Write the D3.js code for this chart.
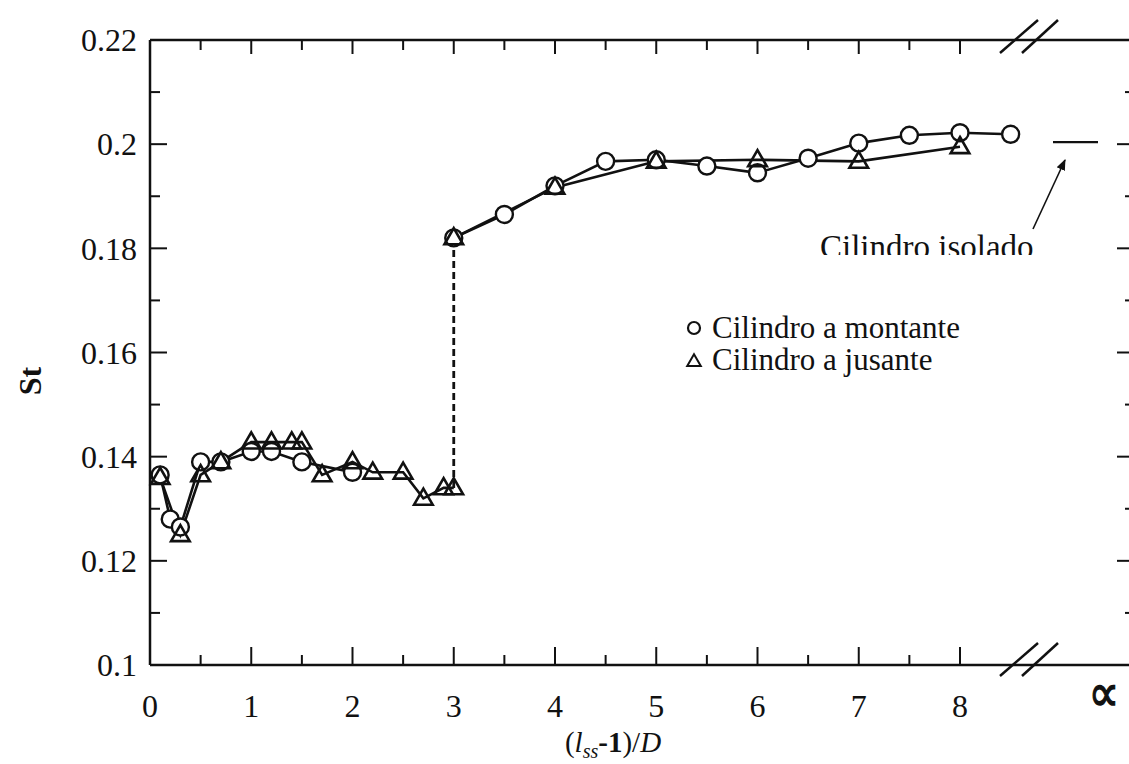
<!DOCTYPE html>
<html><head><meta charset="utf-8">
<script src="https://cdn.jsdelivr.net/npm/d3@7"></script>
<style>
html,body{margin:0;padding:0;background:#fff;}
svg{display:block;}
</style></head>
<body>
<svg id="chart" width="1129" height="764"></svg>
<script>
// ---- data ----
const montanteLowX = [0.1, 0.2, 0.3, 0.5, 0.7, 1.0, 1.2, 1.5, 2.0];
const montanteLowY = [0.1365, 0.128, 0.1265, 0.139, 0.139, 0.141, 0.141, 0.139, 0.137];
const montanteHighX = [3.0, 3.5, 4.0, 4.5, 5.0, 5.5, 6.0, 6.5, 7.0, 7.5, 8.0, 8.5];
const montanteHighY = [0.182, 0.1865, 0.192, 0.1967, 0.197, 0.1958, 0.1945, 0.1973, 0.2002, 0.2017, 0.2022, 0.2019];
const jusanteLowX = [0.1, 0.3, 0.5, 0.7, 1.0, 1.2, 1.4, 1.5, 1.7, 2.0, 2.2, 2.5, 2.7, 2.9, 3.0];
const jusanteLowY = [0.136, 0.125, 0.1365, 0.139, 0.1428, 0.1428, 0.1428, 0.1428, 0.1365, 0.139, 0.137, 0.137, 0.132, 0.134, 0.134];
const jusanteHighX = [3.0, 4.0, 5.0, 6.0, 7.0, 8.0];
const jusanteHighY = [0.182, 0.1917, 0.1967, 0.197, 0.1967, 0.1995];
const isolatedSt = 0.2004;
const xTickLabels = ["0","1","2","3","4","5","6","7","8"];
const yTickLabels = ["0.1","0.12","0.14","0.16","0.18","0.2","0.22"];
const legendLabels = ["Cilindro a montante", "Cilindro a jusante"];
const isolatedLabel = "Cilindro isolado";

// ---- layout ----
const FONT = "'Liberation Serif', Tinos, 'Times New Roman', 'DejaVu Serif', serif";
const svg = d3.select("#chart").attr("font-family", FONT);
const X0 = 150, Y0 = 665, YT = 40, XR = 1135;
const x = d3.scaleLinear().domain([0, 8]).range([X0, 960]);
const y = d3.scaleLinear().domain([0.1, 0.22]).range([Y0, YT]);
const ink = "#111";

// frame lines
svg.append("line").attr("x1", X0).attr("x2", X0).attr("y1", YT).attr("y2", Y0).attr("stroke", ink).attr("stroke-width", 2.5);
svg.append("line").attr("x1", X0).attr("x2", XR).attr("y1", Y0).attr("y2", Y0).attr("stroke", ink).attr("stroke-width", 2.5);
svg.append("line").attr("x1", X0).attr("x2", XR).attr("y1", YT).attr("y2", YT).attr("stroke", ink).attr("stroke-width", 2.5);
svg.append("line").attr("x1", XR).attr("x2", XR).attr("y1", YT).attr("y2", Y0).attr("stroke", ink).attr("stroke-width", 2.5);

// ticks
const xMinor = d3.range(0.5, 8.01, 0.5);
svg.append("g").selectAll("line").data(xMinor).join("line")
  .attr("x1", d => x(d)).attr("x2", d => x(d))
  .attr("y1", Y0).attr("y2", d => Y0 - (Number.isInteger(d) ? 18 : 10))
  .attr("stroke", ink).attr("stroke-width", 2);
svg.append("g").selectAll("line").data(xMinor).join("line")
  .attr("x1", d => x(d)).attr("x2", d => x(d))
  .attr("y1", YT).attr("y2", d => YT + (Number.isInteger(d) ? 14 : 10))
  .attr("stroke", ink).attr("stroke-width", 2);
const yTicks = d3.range(0, 13).map(i => 0.1 + i * 0.01);
svg.append("g").selectAll("line").data(yTicks.slice(1, 12)).join("line")
  .attr("x1", X0).attr("x2", (d, i) => X0 + (i % 2 === 1 ? 17 : 10))
  .attr("y1", d => y(d)).attr("y2", d => y(d))
  .attr("stroke", ink).attr("stroke-width", 2);
svg.append("g").selectAll("line").data(yTicks.slice(1, 12)).join("line")
  .attr("x1", XR).attr("x2", (d, i) => XR - (i % 2 === 1 ? 18 : 10))
  .attr("y1", d => y(d)).attr("y2", d => y(d))
  .attr("stroke", ink).attr("stroke-width", 2);

// axis break marks
function breakMarks(cy) {
  const g = svg.append("g");
  [[1000, 1038], [1022, 1058]].forEach(([a, b]) => {
    g.append("line").attr("x1", a).attr("y1", cy + 13).attr("x2", b).attr("y2", cy - 20)
      .attr("stroke", ink).attr("stroke-width", 2.5);
  });
}
breakMarks(Y0 - 2);
breakMarks(YT);

// tick labels
svg.append("g").selectAll("text").data(xTickLabels).join("text")
  .attr("x", d => x(+d)).attr("y", 717).attr("text-anchor", "middle")
  .attr("font-size", 32).attr("fill", ink).text(d => d);
svg.append("g").selectAll("text").data(yTickLabels).join("text")
  .attr("x", 137).attr("y", d => y(+d)).attr("dy", "0.35em").attr("text-anchor", "end")
  .attr("font-size", 32).attr("fill", ink).text(d => d);
svg.append("text").attr("transform", "translate(1104,711) scale(1.35,1.65)").attr("text-anchor", "middle")
  .attr("font-family", "'DejaVu Sans', sans-serif").attr("font-size", 32)
  .attr("fill", ink).attr("stroke", ink).attr("stroke-width", 0.8).text("\u221D");

// axis titles
const xt = svg.append("text").attr("x", 613).attr("y", 752).attr("text-anchor", "middle")
  .attr("font-size", 29).attr("fill", ink);
xt.append("tspan").text("(");
xt.append("tspan").attr("font-style", "italic").text("l");
xt.append("tspan").attr("font-style", "italic").attr("font-size", 20).attr("dy", 6).text("ss");
xt.append("tspan").attr("dy", -6).attr("font-weight", "bold").text("-1");
xt.append("tspan").text(")/");
xt.append("tspan").attr("font-style", "italic").text("D");
svg.append("text").attr("transform", "translate(41,381) rotate(-90)").attr("text-anchor", "middle")
  .attr("font-size", 32).attr("font-weight", "bold").attr("fill", ink).text("St");

// lines
const line = d3.line().x(d => x(d[0])).y(d => y(d[1]));
const zip = (a, b) => a.map((v, i) => [v, b[i]]);
[[montanteLowX, montanteLowY], [montanteHighX, montanteHighY], [jusanteLowX, jusanteLowY], [jusanteHighX, jusanteHighY]]
  .forEach(([xs, ys]) => {
    svg.append("path").datum(zip(xs, ys)).attr("d", line)
      .attr("fill", "none").attr("stroke", ink).attr("stroke-width", 2.6);
  });
// dashed jump
svg.append("line").attr("x1", x(3)).attr("x2", x(3))
  .attr("y1", y(jusanteLowY[jusanteLowY.length - 1])).attr("y2", y(jusanteHighY[0]))
  .attr("stroke", ink).attr("stroke-width", 2.8).attr("stroke-dasharray", "7,4");

// markers
const tri = d3.symbol().type(d3.symbolTriangle).size(150);
function circles(xs, ys) {
  svg.append("g").selectAll("circle").data(zip(xs, ys)).join("circle")
    .attr("cx", d => x(d[0])).attr("cy", d => y(d[1])).attr("r", 8.5)
    .attr("fill", "#fff").attr("stroke", ink).attr("stroke-width", 2.4);
}
function triangles(xs, ys) {
  svg.append("g").selectAll("path").data(zip(xs, ys)).join("path")
    .attr("d", tri).attr("transform", d => `translate(${x(d[0])},${y(d[1]) + 1})`)
    .attr("fill", "none").attr("stroke", ink).attr("stroke-width", 2.6);
}
circles(montanteLowX, montanteLowY);
circles(montanteHighX, montanteHighY);
triangles(jusanteLowX, jusanteLowY);
triangles(jusanteHighX, jusanteHighY);

// isolated cylinder
svg.append("line").attr("x1", 1053).attr("x2", 1098).attr("y1", y(isolatedSt)).attr("y2", y(isolatedSt))
  .attr("stroke", ink).attr("stroke-width", 2.2);
const defs = svg.append("defs");
defs.append("marker").attr("id", "arr").attr("viewBox", "0 0 10 10")
  .attr("refX", 9).attr("refY", 5).attr("markerWidth", 7).attr("markerHeight", 7).attr("orient", "auto")
  .append("path").attr("d", "M0,1 L10,5 L0,9 Z").attr("fill", ink);
svg.append("line").attr("x1", 1033).attr("y1", 229).attr("x2", 1065).attr("y2", 160)
  .attr("stroke", ink).attr("stroke-width", 1.6).attr("marker-end", "url(#arr)");
defs.append("clipPath").attr("id", "clipIso")
  .append("rect").attr("x", 800).attr("y", 200).attr("width", 300).attr("height", 55);
svg.append("text").attr("x", 820).attr("y", 258).attr("font-size", 33).attr("fill", ink)
  .attr("clip-path", "url(#clipIso)").text(isolatedLabel);

// legend
const lg = svg.append("g");
lg.append("circle").attr("cx", 694).attr("cy", 328).attr("r", 6).attr("fill", "none").attr("stroke", ink).attr("stroke-width", 2.2);
lg.append("path").attr("d", d3.symbol().type(d3.symbolTriangle).size(80)).attr("transform", "translate(694,362)")
  .attr("fill", "none").attr("stroke", ink).attr("stroke-width", 2);
lg.selectAll("text").data(legendLabels).join("text")
  .attr("x", 712).attr("y", (d, i) => 338 + i * 32).attr("font-size", 31).attr("fill", ink).text(d => d);
</script>
</body></html>
